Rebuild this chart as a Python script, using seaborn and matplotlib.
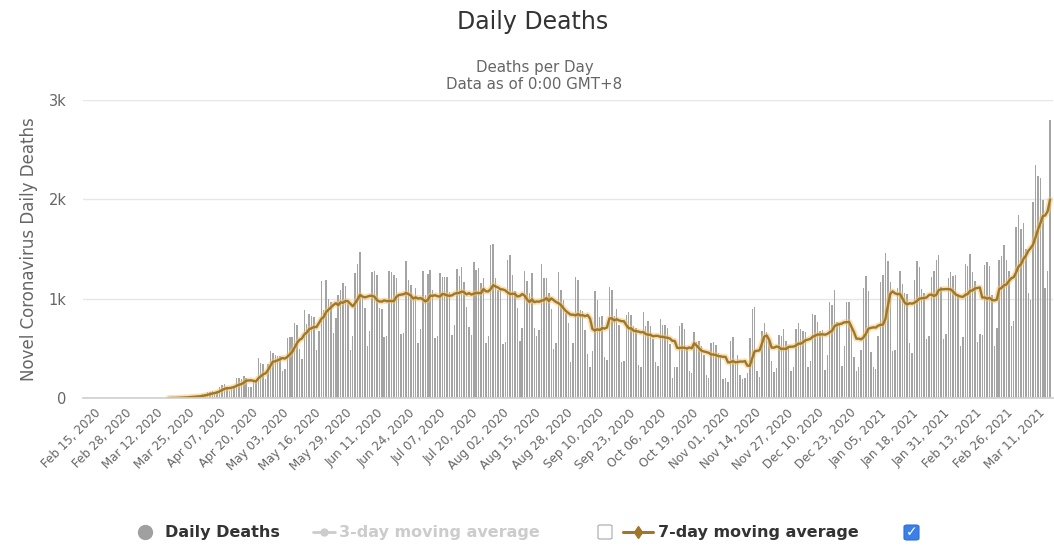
import numpy as np
import pandas as pd
import matplotlib
matplotlib.use("Agg")
import matplotlib.pyplot as plt
from matplotlib.lines import Line2D
from matplotlib.patches import FancyBboxPatch
import seaborn as sns

# ── Data (daily deaths) ─────────────────────────────────────────────────────
START_DATE = "2020-02-15"

feb_2020 = [0, 0, 0, 0, 0, 0, 0, 0, 0, 0, 0, 0, 0, 0, 0]          # Feb 15-29
mar_2020_a = [0, 0, 0, 0, 0, 0, 0, 0, 0, 0, 0, 0, 0, 0, 0, 0]     # Mar 1-16
mar_2020_b = [1, 2, 3, 4, 7, 7, 9, 12, 11, 20, 15, 22, 22, 23, 42]  # Mar 17-31
apr_2020 = [43, 58, 60, 73, 54, 67, 114, 133, 141, 115, 68, 99, 105, 204, 204,
            188, 217, 206, 115, 113, 166, 165, 407, 357, 346, 189, 338, 474,
            449, 435]
may_2020 = [428, 421, 275, 296, 600, 615, 610, 751, 730, 496, 396, 881, 749,
            844, 824, 816, 485, 674, 1179, 888, 1188, 1001, 965, 653, 807,
            1039, 1086, 1156, 1124, 956, 480]
jun_2020 = [623, 1262, 1349, 1473, 1005, 904, 525, 679, 1272, 1274, 1239, 909,
            892, 612, 627, 1282, 1269, 1238, 1206, 1022, 641, 654, 1374, 1185,
            1141, 990, 1109, 552, 692, 1280]
jul_2020 = [1038, 1252, 1290, 1091, 602, 620, 1254, 1223, 1220, 1214, 1071,
            631, 733, 1300, 1233, 1322, 1163, 921, 716, 632, 1367, 1284, 1311,
            1156, 1211, 555, 627, 1540, 1554, 1212, 1088]
aug_2020 = [1088, 541, 561, 1394, 1437, 1237, 1079, 905, 572, 703, 1274, 1175,
            1060, 1262, 709, 620, 684, 1352, 1212, 1204, 1054, 892, 494, 553,
            1271, 1085, 984, 855, 758, 366, 553]
sep_2020 = [1215, 1184, 888, 874, 682, 447, 310, 476, 1075, 983, 814, 822, 415,
            381, 1113, 1090, 829, 899, 739, 363, 377, 836, 869, 831, 729, 708,
            335, 317, 863, 729]
oct_2020 = [778, 728, 599, 366, 319, 793, 734, 730, 703, 548, 201, 309, 309,
            727, 754, 695, 495, 271, 252, 665, 566, 571, 522, 433, 230, 200,
            549, 560, 530, 450, 420]
nov_2020 = [190, 200, 162, 570, 610, 371, 432, 227, 190, 201, 250, 600, 900,
            921, 269, 216, 676, 754, 666, 598, 373, 263, 302, 630, 620, 691,
            575, 521, 271, 317]
dec_2020 = [697, 755, 694, 672, 665, 313, 376, 842, 835, 770, 672, 686, 279,
            433, 964, 936, 1092, 764, 736, 320, 524, 968, 963, 730, 410, 272,
            314, 482, 1111, 1224, 1074]
jan_2021 = [462, 314, 293, 620, 1171, 1242, 1460, 1379, 1171, 469, 480, 1110,
            1274, 1151, 1060, 1050, 551, 452, 1183, 1382, 1316, 1096, 1062, 592,
            627, 1214, 1283, 1386, 1439, 1119, 595]
feb_2021 = [640, 1209, 1264, 1232, 1239, 1041, 528, 612, 1350, 1330, 1452,
            1270, 1174, 563, 647, 639, 1340, 1367, 1324, 1033, 527, 701, 1386,
            1428, 1541, 1386, 1275, 721]
mar_2021 = [778, 1726, 1840, 1699, 1760, 1498, 1054, 987, 1972, 2349, 2233,
            2216, 1997, 1111, 1275, 2798]

y_ticks = [0, 1000, 2000, 3000]
y_tick_labels = ["0", "1k", "2k", "3k"]

BAR_COLOUR = "#a4a4a4"
LINE_COLOUR = "#9f772a"
GLOW_COLOUR = "#f2c46e"
TEXT_GREY = "#666666"

# ── Frame ────────────────────────────────────────────────────────────────────
deaths = (feb_2020 + mar_2020_a + mar_2020_b + apr_2020 + may_2020 + jun_2020
          + jul_2020 + aug_2020 + sep_2020 + oct_2020 + nov_2020 + dec_2020
          + jan_2021 + feb_2021 + mar_2021)
dates = pd.date_range(START_DATE, periods=len(deaths), freq="D")

df = pd.DataFrame({"day": np.arange(len(deaths)), "deaths": deaths})
df["ma7"] = df["deaths"].rolling(7, min_periods=1).mean()
df.loc[df["deaths"].cumsum() == 0, "ma7"] = np.nan

# ── Plot ─────────────────────────────────────────────────────────────────────
sns.set_theme(style="white")
plt.rcParams["font.family"] = ["DejaVu Sans"]

fig = plt.figure(figsize=(10.54, 5.46), dpi=100)
ax = fig.add_axes([0.079, 0.271, 0.92, 0.546])

sns.barplot(data=df, x="day", y="deaths", native_scale=True, width=0.6,
            color=BAR_COLOUR, saturation=1, errorbar=None, linewidth=0, ax=ax)
sns.lineplot(data=df, x="day", y="ma7", color=GLOW_COLOUR, lw=4.2, alpha=0.5,
             ax=ax)
sns.lineplot(data=df, x="day", y="ma7", color=LINE_COLOUR, lw=1.7, ax=ax)

ax.set_xlim(-4.3, len(deaths) + 0.2)
ax.set_ylim(0, 3000)
ax.set_yticks(y_ticks)
ax.set_yticklabels(y_tick_labels)
ax.yaxis.grid(True, color="#e6e6e6", lw=1)
ax.set_axisbelow(True)
for side in ["top", "right", "left"]:
    ax.spines[side].set_visible(False)
ax.spines["bottom"].set_color("#d0d0d0")

tick_idx = list(range(0, len(deaths), 13))
ax.set_xticks(tick_idx)
ax.set_xticklabels([dates[i].strftime("%b %d, %Y") for i in tick_idx],
                   rotation=45, ha="right", rotation_mode="anchor")
ax.tick_params(axis="x", length=0, pad=6, labelsize=8.6, labelcolor=TEXT_GREY)
ax.tick_params(axis="y", length=0, pad=12, labelsize=10.5, labelcolor=TEXT_GREY)

ax.set_xlabel("")
ax.set_ylabel("Novel Coronavirus Daily Deaths", color=TEXT_GREY, fontsize=12)
ax.yaxis.set_label_coords(-0.047, 0.5)

# titles
fig.text(0.505, 0.96, "Daily Deaths", ha="center", va="center",
         fontsize=17, color="#333333")
fig.text(0.507, 0.877, "Deaths per Day", ha="center", va="center",
         fontsize=10.8, color=TEXT_GREY)
fig.text(0.507, 0.846, "Data as of 0:00 GMT+8", ha="center", va="center",
         fontsize=10.8, color=TEXT_GREY)

# ── Legend (drawn by hand, Highcharts style) ────────────────────────────────
W, H = 1054, 546
ly = 1 - 532 / H


def fx(px):
    return px / W


fig.add_artist(Line2D([fx(145)], [ly], marker="o", ms=10, color="#a0a0a0",
                      transform=fig.transFigure))
fig.text(fx(165), ly, "Daily Deaths", ha="left", va="center", fontsize=11.5,
         fontweight="bold", color="#333333")

fig.add_artist(Line2D([fx(313), fx(335)], [ly, ly], lw=2, color="#cccccc",
                      transform=fig.transFigure))
fig.add_artist(Line2D([fx(324)], [ly], marker="o", ms=5, color="#cccccc",
                      transform=fig.transFigure))
fig.text(fx(339), ly, "3-day moving average", ha="left", va="center",
         fontsize=11.5, fontweight="bold", color="#cccccc")

fig.add_artist(FancyBboxPatch((fx(598), ly - 7 / H), 14 / W, 14 / H,
                              boxstyle="round,pad=0,rounding_size=0.002",
                              fc="white", ec="#a8a8a8", lw=0.8,
                              transform=fig.transFigure))

fig.add_artist(Line2D([fx(623), fx(653)], [ly, ly], lw=2.2, color=LINE_COLOUR,
                      transform=fig.transFigure))
fig.add_artist(Line2D([fx(638)], [ly], marker="d", ms=6, color=LINE_COLOUR,
                      transform=fig.transFigure))
fig.text(fx(658), ly, "7-day moving average", ha="left", va="center",
         fontsize=11.5, fontweight="bold", color="#333333")

fig.add_artist(FancyBboxPatch((fx(904), ly - 8 / H), 15 / W, 15 / H,
                              boxstyle="round,pad=0,rounding_size=0.003",
                              fc="#3a80e8", ec="#2f6fd0", lw=0.8,
                              transform=fig.transFigure))
fig.text(fx(911.5), ly - 0.5 / H, "\u2713", ha="center", va="center",
         fontsize=10, fontweight="bold", color="white")

fig.savefig("out.png", dpi=100)
